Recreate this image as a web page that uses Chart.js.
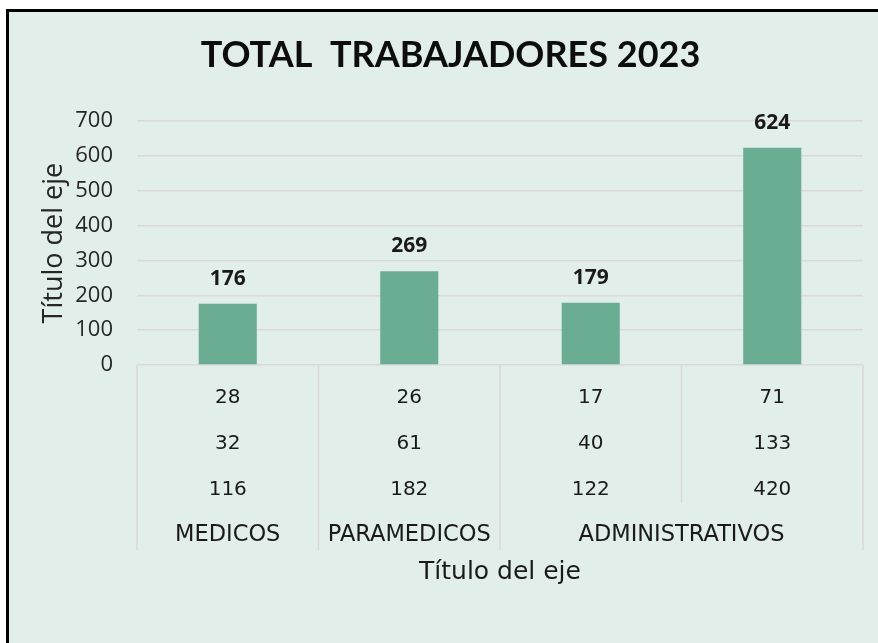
<!DOCTYPE html>
<html>
<head>
<meta charset="utf-8">
<script src="https://cdn.jsdelivr.net/npm/chart.js@4.4.1/dist/chart.umd.min.js"></script>
<style>
html, body { margin: 0; padding: 0; background: #fff; }
#wrap { width: 878px; height: 643px; position: relative; }
</style>
</head>
<body>
<div id="wrap"><canvas id="trabajadores"></canvas></div>
<script>
// valores
var totals = [176, 269, 179, 624];
var row1 = ['28', '26', '17', '71'];
var row2 = ['32', '61', '40', '133'];
var row3 = ['116', '182', '122', '420'];
var groups = ['MEDICOS', 'PARAMEDICOS', 'ADMINISTRATIVOS'];
var groupSpans = [1, 1, 2];
var yMax = 700;
var yStep = 100;

var rowPad = 10;
var rowHeight = 46;

var labels = [];
for (var i = 0; i < totals.length; i++) {
    labels.push([row1[i], row2[i], row3[i], '']);
}

var frame = {
    id: 'frame',
    beforeDraw: function(chart) {
        var c = chart.ctx;
        c.save();
        c.fillStyle = '#ffffff';
        c.fillRect(0, 0, chart.width, chart.height);
        c.fillStyle = '#e2eeea';
        c.fillRect(8, 10, chart.width - 8, chart.height - 10);
        c.fillStyle = '#000000';
        c.fillRect(6, 9, 3, chart.height - 9);
        c.fillRect(6, 9, chart.width - 6, 3);
        c.restore();
    }
};

var extras = {
    id: 'extras',
    afterDraw: function(chart) {
        var c = chart.ctx;
        var x = chart.scales.x;
        var meta = chart.getDatasetMeta(0);
        c.save();

        // etiquetas de datos
        c.font = 'bold 21px "Open Sans"';
        c.fillStyle = '#1a1a1a';
        c.textAlign = 'center';
        c.textBaseline = 'middle';
        meta.data.forEach(function(bar, i) {
            c.fillText(String(totals[i]), bar.x, bar.y - 25);
        });

        // separadores de la tabla del eje
        var step = x.getPixelForValue(1) - x.getPixelForValue(0);
        var top = x.top;
        var fullBottom = x.top + 185;
        var innerBottom = x.top + 138;
        c.strokeStyle = '#d9d9d9';
        c.lineWidth = 1.5;
        var idx = 0;
        var groupStarts = [];
        groupSpans.forEach(function(span) { groupStarts.push(idx); idx += span; });
        for (var k = 0; k <= totals.length; k++) {
            var px = x.getPixelForValue(k) - step / 2;
            var isEdge = groupStarts.indexOf(k) >= 0 || k === totals.length;
            c.beginPath();
            c.moveTo(px, top);
            c.lineTo(px, isEdge ? fullBottom : innerBottom);
            c.stroke();
        }

        // nombres de grupo
        c.font = '22.5px "DejaVu Sans"';
        c.fillStyle = '#1a1a1a';
        var gy = x.top + rowPad + rowHeight * 3.5 - 1;
        groups.forEach(function(g, j) {
            var s = groupStarts[j];
            var e = s + groupSpans[j] - 1;
            var cx = (x.getPixelForValue(s) + x.getPixelForValue(e)) / 2;
            c.fillText(g, cx, gy);
        });
        c.restore();
    }
};

var ctx = document.getElementById('trabajadores');
var chart = new Chart(ctx, {
    type: 'bar',
    data: {
        labels: labels,
        datasets: [{
            label: 'Total',
            data: totals,
            backgroundColor: '#6aad92',
            borderWidth: 0,
            barPercentage: 0.32,
            categoryPercentage: 1
        }]
    },
    plugins: [frame, extras],
    options: {
        responsive: true,
        maintainAspectRatio: false,
        animation: false,
        devicePixelRatio: 1,
        layout: { padding: { left: 38, right: 15, top: 0, bottom: 56 } },
        plugins: {
            legend: { display: false },
            tooltip: { enabled: false },
            title: {
                display: true,
                text: 'TOTAL  TRABAJADORES 2023',
                color: '#0d0d0d',
                font: { family: 'Lato', size: 36, weight: 'bold' },
                padding: { top: 34, bottom: 44 }
            }
        },
        scales: {
            x: {
                grid: { display: false, drawTicks: false },
                border: { display: false },
                afterFit: function(scale) { scale.height = 222; },
                ticks: {
                    autoSkip: false,
                    maxRotation: 0,
                    padding: rowPad,
                    color: '#1a1a1a',
                    font: { family: 'DejaVu Sans', size: 20, lineHeight: rowHeight / 20 }
                },
                title: {
                    display: true,
                    text: 'Título del eje',
                    color: '#1a1a1a',
                    font: { family: 'DejaVu Sans', size: 25, lineHeight: 1.2 },
                    padding: { top: 0, bottom: 0 }
                }
            },
            y: {
                min: 0,
                max: yMax,
                border: { display: false },
                afterFit: function(scale) { scale.width = 99; },
                grid: { color: '#d9d9d9', lineWidth: 1.5, drawTicks: false },
                ticks: {
                    stepSize: yStep,
                    padding: 24,
                    color: '#262626',
                    font: { family: 'Open Sans', size: 22 }
                },
                title: {
                    display: true,
                    text: 'Título del eje',
                    color: '#262626',
                    font: { family: 'Open Sans', size: 27, lineHeight: 1.2 },
                    padding: { top: 0, bottom: 9 }
                }
            }
        }
    }
});
</script>
</body>
</html>
